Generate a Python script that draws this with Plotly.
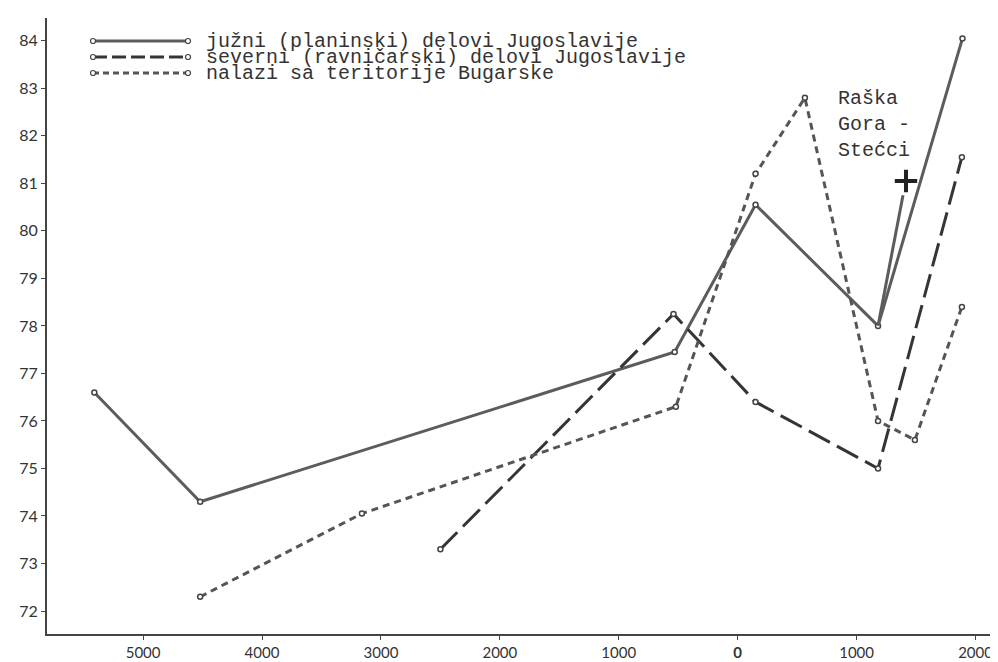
import plotly.graph_objects as go

# ---- data (years: negative = BC) ----
juzni_years = [-5410, -4520, -530, 150, 1180, 1890]
juzni_vals = [76.6, 74.3, 77.45, 80.55, 78.0, 84.05]

raska_seg_years = [1180, 1390]
raska_seg_vals = [78.0, 80.75]
raska_cross_year = [1415]
raska_cross_val = [81.05]

severni_years = [-2500, -540, 150, 1180, 1885]
severni_vals = [73.3, 78.25, 76.4, 75.0, 81.55]

bugarska_years = [-4520, -3160, -520, 150, 565, 1180, 1490, 1885]
bugarska_vals = [72.3, 74.05, 76.3, 81.2, 82.8, 76.0, 75.6, 78.4]

x_tickvals = [-5000, -4000, -3000, -2000, -1000, 0, 1000, 2000]
x_ticktext = ["5000", "4000", "3000", "2000", "1000", "<b>0</b>", "1000", "2000"]
y_tickvals = list(range(72, 85))

legend_labels = ["južni (planinski) delovi Jugoslavije",
                 "severni (ravničarski) delovi Jugoslavije",
                 "nalazi sa teritorije Bugarske"]
raska_label = "Raška<br>Gora -<br>Stećci"

# ---- styles ----
W, H = 998, 662
L, R, T, B = 39, 0, 10, 36
PW, PH = W - L - R, H - T - B

C_SOLID = "#5c5c5c"
C_DASH = "#353535"
C_DOT = "#555555"
DASH_LONG = "24px,8px"
DASH_SHORT = "7px,5px"
MONO = "Liberation Mono, Courier New, monospace"
SANS = "Lato, Open Sans, DejaVu Sans, sans-serif"


def px(xp):
    return (xp - L) / PW


def py(yp):
    return (H - B - yp) / PH


marker = dict(size=5, color="#ffffff", line=dict(color="#444444", width=1.5))

fig = go.Figure()
fig.add_trace(go.Scatter(x=juzni_years, y=juzni_vals, mode="lines+markers",
                         line=dict(color=C_SOLID, width=3), marker=marker,
                         showlegend=False))
fig.add_trace(go.Scatter(x=raska_seg_years, y=raska_seg_vals, mode="lines",
                         line=dict(color=C_SOLID, width=3), showlegend=False))
fig.add_trace(go.Scatter(x=raska_cross_year, y=raska_cross_val, mode="markers",
                         marker=dict(symbol="cross-thin", size=16,
                                     line=dict(color="#222222", width=4)),
                         showlegend=False))
fig.add_trace(go.Scatter(x=severni_years, y=severni_vals, mode="lines+markers",
                         line=dict(color=C_DASH, width=3, dash=DASH_LONG), marker=marker,
                         showlegend=False))
fig.add_trace(go.Scatter(x=bugarska_years, y=bugarska_vals, mode="lines+markers",
                         line=dict(color=C_DOT, width=3, dash=DASH_SHORT), marker=marker,
                         showlegend=False))

# ---- manual legend ----
shapes = []
annotations = []
rows_y = [33, 49, 65]
styles = [(C_SOLID, "solid"), (C_DASH, "14px,5px"), (C_DOT, "6px,4px")]
for yy, (col, dsh), lab in zip(rows_y, styles, legend_labels):
    shapes.append(dict(type="line", xref="paper", yref="paper",
                       x0=px(85), x1=px(180), y0=py(yy), y1=py(yy),
                       line=dict(color=col, width=3, dash=dsh)))
    for xe in (85, 180):
        shapes.append(dict(type="circle", xref="paper", yref="paper",
                           x0=px(xe - 2.5), x1=px(xe + 2.5), y0=py(yy - 2.5), y1=py(yy + 2.5),
                           fillcolor="#ffffff", line=dict(color="#444444", width=1.2)))
    annotations.append(dict(xref="paper", yref="paper", x=px(197), y=py(yy),
                            xanchor="left", yanchor="middle", text=lab, showarrow=False,
                            borderpad=0,
                            font=dict(family=MONO, size=20, color="#333333")))

annotations.append(dict(xref="paper", yref="paper", x=px(829), y=py(78),
                        xanchor="left", yanchor="top", text=raska_label, showarrow=False,
                        align="left", borderpad=0,
                        font=dict(family=MONO, size=20, color="#333333")))

fig.update_layout(
    width=W, height=H,
    margin=dict(l=L, r=R, t=T, b=B),
    paper_bgcolor="white", plot_bgcolor="white",
    shapes=shapes, annotations=annotations,
    xaxis=dict(range=[-5808, 2256], tickvals=x_tickvals, ticktext=x_ticktext,
               showgrid=False, zeroline=False, showline=True, linecolor="#444444",
               linewidth=2, ticks="outside", ticklen=4, tickcolor="#444444",
               tickfont=dict(family=SANS, size=15, color="#333333"), automargin=False),
    yaxis=dict(range=[71.516, 84.48], tickvals=y_tickvals,
               showgrid=False, zeroline=False, showline=True, linecolor="#444444",
               linewidth=2, ticks="outside", ticklen=4, tickcolor="#444444",
               tickfont=dict(family=SANS, size=16, color="#333333"), automargin=False),
)

fig.write_html("out.html")
